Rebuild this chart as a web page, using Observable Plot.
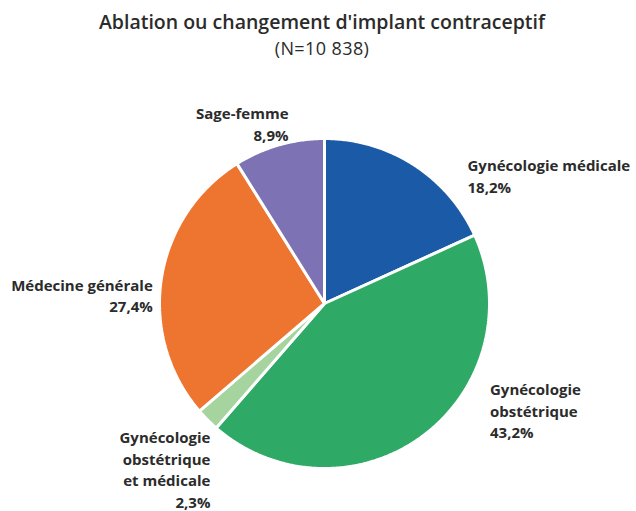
<!DOCTYPE html>
<html>
<head>
<meta charset="utf-8">
<script src="https://cdn.jsdelivr.net/npm/d3@7"></script>
<script src="https://cdn.jsdelivr.net/npm/@observablehq/plot@0.6"></script>
<style>
  html, body { margin: 0; padding: 0; background: #fff; }
  #wrap { width: 636px; height: 511px; overflow: hidden; font-family: "Open Sans", sans-serif; color: #2b2b2b; }
  #title { padding: 9px 0 3px 8px; box-sizing: border-box; height: 64px; text-align: center; }
  #title .t1 { font-size: 19.5px; font-weight: 600; line-height: 26px; }
  #title .t2 { font-size: 18px; font-weight: 400; line-height: 26px; letter-spacing: 0.4px; }
</style>
</head>
<body>
<div id="wrap">
  <div id="title">
    <div class="t1">Ablation ou changement d'implant contraceptif</div>
    <div class="t2">(N=10 838)</div>
  </div>
  <div id="chart"></div>
</div>
<script>
// Data (clockwise from 12 o'clock)
const categories = [
  "Gynécologie médicale",
  "Gynécologie obstétrique",
  "Gynécologie obstétrique et médicale",
  "Médecine générale",
  "Sage-femme"
];
const labelTexts = [
  "Gynécologie médicale",
  "Gynécologie\nobstétrique",
  "Gynécologie\nobstétrique\net médicale",
  "Médecine générale",
  "Sage-femme"
];
const percents = [18.2, 43.2, 2.3, 27.4, 8.9];
const percentLabels = ["18,2%", "43,2%", "2,3%", "27,4%", "8,9%"];
const colors = ["#1b5aa6", "#2eaa66", "#a5d49f", "#ed7530", "#7d72b3"];

// Label layout (style/placement only)
const labelAnchor = ["start", "start", "end", "end", "end"];
const labelNudge = [[43, 27], [55, -42], [17, 35], [11, 19], [15, -3]];

const W = 636, H = 447, R = 165, CX = 324, CY = 239;

const arcs = d3.pie().sort(null).value(d => d)(percents);

// Slice polygons in unit-circle coordinates (angle clockwise from top)
const slicePts = [];
arcs.forEach((a, i) => {
  const n = Math.max(4, Math.ceil((a.endAngle - a.startAngle) / 0.01));
  slicePts.push({name: categories[i], x: 0, y: 0});
  for (let k = 0; k <= n; k++) {
    const t = a.startAngle + (a.endAngle - a.startAngle) * k / n;
    slicePts.push({name: categories[i], x: Math.sin(t), y: Math.cos(t)});
  }
});

const labels = arcs.map((a, i) => {
  const m = (a.startAngle + a.endAngle) / 2;
  return {
    name: categories[i],
    text: labelTexts[i] + "\n" + percentLabels[i],
    x: 1.12 * Math.sin(m),
    y: 1.12 * Math.cos(m),
    anchor: labelAnchor[i],
    dx: labelNudge[i][0],
    dy: labelNudge[i][1]
  };
});

const chart = Plot.plot({
  width: W,
  height: H,
  margin: 0,
  x: {domain: [-CX / R, (W - CX) / R], axis: null},
  y: {domain: [-(H - CY) / R, CY / R], axis: null},
  color: {domain: categories, range: colors},
  marks: [
    Plot.line(slicePts, {
      x: "x", y: "y", z: "name", fill: "name",
      stroke: "white", strokeWidth: 3, strokeLinejoin: "miter",
      curve: "linear-closed"
    }),
    ...labels.map(l => Plot.text([l], {
      x: "x", y: "y", text: "text",
      textAnchor: l.anchor, lineAnchor: "middle",
      dx: l.dx, dy: l.dy,
      fontSize: 15, fontWeight: 700, lineHeight: 1.44,
      fill: "#2b2b2b", fontFamily: "Open Sans"
    }))
  ]
});
document.getElementById("chart").appendChild(chart);
</script>
</body>
</html>
